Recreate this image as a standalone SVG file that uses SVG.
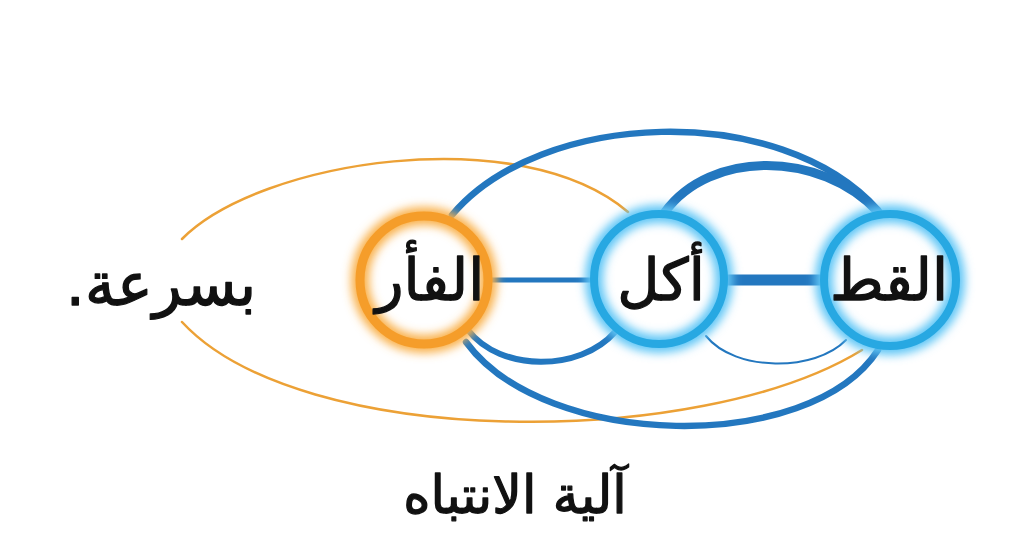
<svg xmlns="http://www.w3.org/2000/svg" width="1024" height="559" viewBox="0 0 1024 559">
<style>
  .lbl{font-family:"DejaVu Sans","Noto Sans",sans-serif;fill:#111;stroke:#111;stroke-width:1.3;stroke-linejoin:round;text-anchor:middle;direction:rtl}
  .blue{fill:none;stroke:#2377bf;stroke-linecap:round}
  .org{fill:none;stroke:#eca136;stroke-width:2.5;stroke-linecap:round}
  .ringB{fill:none;stroke:#27a8e2;stroke-width:8}
  .glowB{fill:none;stroke:#5fc6f6;stroke-width:18}
  .ringO{fill:none;stroke:#f59d2a;stroke-width:9}
  .glowO{fill:none;stroke:#f9b04a;stroke-width:18}
</style>
<defs>
  <filter id="glow" x="-30%" y="-30%" width="160%" height="160%">
    <feGaussianBlur stdDeviation="5"/>
  </filter>
</defs>
<rect width="1024" height="559" fill="#ffffff"/>
<g id="connectors">
  <path class="org" d="M 182 239 C 260 160, 520 120, 628 212"/>
  <path class="org" d="M 182 322 C 300 450, 700 450, 862 350"/>
  <path class="blue" stroke-width="6.5" d="M 452 215 C 540 110, 780 100, 878 210"/>
  <path class="blue" stroke-width="9" d="M 665 212 C 710 150, 820 150, 878 212"/>
  <path class="blue" stroke-width="5" d="M 480 280 L 600 280"/>
  <path class="blue" stroke-width="11" stroke-linecap="butt" d="M 715 280 L 835 280"/>
  <path class="blue" stroke-width="6" d="M 468 330 C 500 372, 580 372, 615 332"/>
  <path class="blue" stroke-width="2" d="M 706 336 C 735 372, 815 372, 846 340"/>
  <path class="blue" stroke-width="6.5" d="M 466 342 C 545 450, 810 455, 878 350"/>
</g>
<g id="node-mouse">
  <circle cx="424" cy="280" r="64" fill="#fff"/>
  <circle class="glowO" cx="424" cy="280" r="64" filter="url(#glow)"/>
  <circle class="ringO" cx="424" cy="280" r="64"/>
  <text class="lbl" x="430" y="300" font-size="58">الفأر</text>
</g>
<g id="node-ate">
  <circle cx="659" cy="279" r="65" fill="#fff"/>
  <circle class="glowB" cx="659" cy="279" r="65" filter="url(#glow)"/>
  <circle class="ringB" cx="659" cy="279" r="65"/>
  <text class="lbl" x="661" y="300" font-size="58">أكل</text>
</g>
<g id="node-cat">
  <circle cx="890" cy="280" r="66" fill="#fff"/>
  <circle class="glowB" cx="890" cy="280" r="66" filter="url(#glow)"/>
  <circle class="ringB" cx="890" cy="280" r="66"/>
  <text class="lbl" x="889" y="300" font-size="58">القط</text>
</g>
<g id="word-quickly">
  <text class="lbl" x="161" y="305" font-size="60">بسرعة.</text>
</g>
<g id="title">
  <text class="lbl" x="515" y="513" font-size="52">آلية الانتباه</text>
</g>
</svg>
